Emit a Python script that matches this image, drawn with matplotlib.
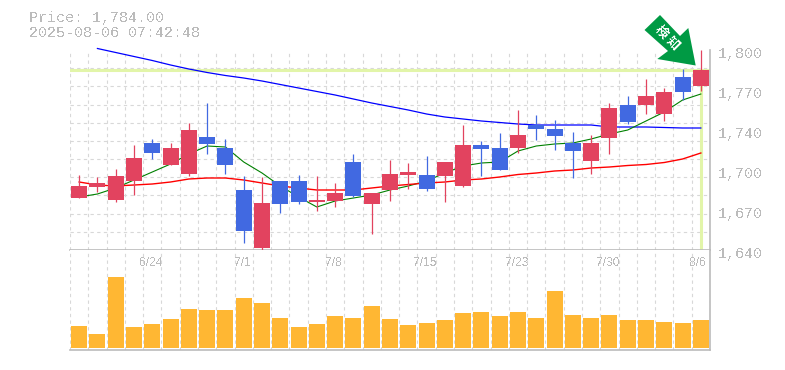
import numpy as np
import matplotlib
matplotlib.use('Agg')
import matplotlib.pyplot as plt
from matplotlib.patches import Polygon
from matplotlib.transforms import ScaledTranslation

plt.rcParams['text.antialiased'] = False

# prices
opens = [1681.6, 1690.4, 1680, 1695.2, 1725.6, 1708, 1700.8, 1730.4, 1721.6, 1688, 1641.6, 1695.2,
         1695.2, 1678.4, 1679.2, 1710.4, 1676.8, 1688, 1700, 1700, 1699.2, 1691.2, 1724, 1721.6,
         1721.6, 1740, 1736.8, 1725.6, 1711.2, 1729.6, 1756, 1756, 1748.8, 1778.4, 1771.2]
closes = [1691.2, 1693.6, 1699.2, 1713.6, 1717.6, 1721.6, 1736, 1724.8, 1708, 1655.2, 1677.6, 1676.8,
          1678.4, 1680, 1685.6, 1683.2, 1685.6, 1700.8, 1702.4, 1688.8, 1710.4, 1724, 1720.8, 1704,
          1732, 1736.8, 1731.2, 1719.2, 1725.6, 1753.6, 1742.4, 1763.2, 1766.4, 1766.4, 1784]
highs = [1700, 1698.4, 1704.8, 1724, 1728.8, 1725.6, 1741.6, 1757.6, 1728.8, 1699.2, 1698.4, 1695.2,
         1700, 1699.2, 1693.6, 1716.8, 1685.6, 1712, 1709.6, 1715.2, 1710.4, 1740, 1727.2, 1733.6,
         1752, 1748, 1744, 1734.4, 1732, 1757.6, 1763.2, 1776.8, 1769.6, 1784.8, 1800]
lows = [1681.6, 1686.4, 1678.4, 1684, 1712.8, 1708, 1699.2, 1716.8, 1700.8, 1645.6, 1639.2, 1669.6,
        1676.8, 1671.2, 1674.4, 1682.4, 1652.8, 1679.2, 1688.8, 1687.2, 1678.4, 1690.4, 1699.2, 1704,
        1717.6, 1728, 1720, 1697.6, 1700.8, 1716.8, 1740.8, 1748.8, 1743.2, 1760, 1767.2]
ma_short = [1682.4, 1684.8, 1689.6, 1696, 1702.4, 1708.8, 1716.8, 1723.2, 1722.4, 1710.4, 1701.6, 1691.2,
            1682.4, 1674.4, 1679.2, 1681.6, 1684, 1688, 1691.2, 1695.2, 1701.6, 1707.2, 1709.6, 1710.4,
            1719.2, 1723.2, 1724.8, 1725.6, 1728.8, 1732.8, 1736, 1743.2, 1750.4, 1760, 1764.8]
ma_mid = [1694.4, 1692, 1691.2, 1692, 1692.8, 1694.4, 1696.8, 1697.6, 1697.6, 1696, 1693.6, 1691.2,
          1689.6, 1688, 1688, 1688, 1689.6, 1691.2, 1692.4, 1693.6, 1694.4, 1696, 1696.8, 1698.4,
          1700.4, 1701.6, 1703.2, 1704, 1705.6, 1706.4, 1707.6, 1708.4, 1710, 1712.8, 1717.6]
ma_long = [np.nan, 1801.2, 1798, 1794.8, 1791.6, 1788, 1784.8, 1782, 1779.6, 1777.6, 1775.2, 1772.4,
           1769.6, 1766.8, 1764, 1760.8, 1757.6, 1754.8, 1752, 1748.8, 1746.4, 1744.8, 1743.2, 1742,
           1740.8, 1740, 1740, 1740, 1740, 1738.4, 1738.4, 1738.4, 1738, 1737.6, 1737.6]
volumes = [22, 14, 71, 21, 24, 29, 39, 38, 38, 50, 45, 30, 21, 24, 32, 30, 42, 29,
           23, 25, 28, 35, 36, 32, 36, 30, 57, 33, 30, 33, 28, 28, 26, 25, 28]
last_price = 1784
price_ticks = [1640, 1672, 1704, 1736, 1768, 1800]
price_labels = ['1,640', '1,670', '1,700', '1,740', '1,770', '1,800']
date_pos = [4, 9, 14, 19, 24, 29, 34]
date_labels = ['6/24', '7/1', '7/8', '7/15', '7/23', '7/30', '8/6']

RED = '#e2435f'
BLUE = '#4169e1'
GRID = '#d8d8d8'
GRAY = '#bbbbbb'
W, H = 785, 370

x = np.arange(len(opens))
opens = np.array(opens)
closes = np.array(closes)
colors = [RED if c >= o else BLUE for o, c in zip(opens, closes)]

fig = plt.figure(figsize=(W / 100, H / 100), dpi=100, facecolor='white')
ax = fig.add_axes([70 / W, 1 - 250 / H, 640 / W, 200 / H])
vax = fig.add_axes([70 / W, 1 - 350 / H, 640 / W, 100 / H], sharex=ax)

ax.set_xlim(-0.5, 34.5)
ax.set_ylim(1640, 1800)
vax.set_ylim(-2, 98)

# dashed grid on minor ticks, labels stay on the major ones
for a in (ax, vax):
    a.set_xticks(np.arange(-0.5, 35), minor=True)
    a.grid(True, which='minor', axis='x', color=GRID, lw=0.8, ls=(0, (3, 3)), zorder=0, snap=True)
    a.set_axisbelow(True)
    a.spines['left'].set_visible(False)
    a.spines['top'].set_visible(False)
    a.spines['right'].set_color(GRAY)
    a.spines['bottom'].set_color(GRAY)
    a.spines['right'].set_linewidth(1.2)
    a.spines['bottom'].set_linewidth(1.2)
    a.tick_params(which='both', length=0)
ax.set_yticks(np.linspace(1640, 1800, 12), minor=True)
ax.grid(True, which='minor', axis='y', color=GRID, lw=0.8, ls=(0, (3, 3)), zorder=0, snap=True)

ax.yaxis.tick_right()
ax.set_yticks(price_ticks, price_labels, family='Liberation Mono', fontsize=10.8, color=GRAY)
ax.tick_params(axis='y', which='major', pad=6, length=0)
shift = ScaledTranslation(0, -2.6 / 100, fig.dpi_scale_trans)
for lab in ax.get_yticklabels():
    lab.set_transform(lab.get_transform() + shift)
ax.tick_params(axis='x', labelbottom=False)

vax.set_yticks([])
vax.set_xticks(date_pos, date_labels, family='Liberation Sans', fontsize=8.64, color=GRAY)
vax.tick_params(axis='x', which='major', labelbottom=False, labeltop=True, pad=-14, length=0)
plt.setp(vax.get_xticklabels(), visible=True)
left_shift = ScaledTranslation(-1 / 100, 0, fig.dpi_scale_trans)
for lab in vax.get_xticklabels():
    lab.set_transform(lab.get_transform() + left_shift)
last_lab = vax.get_xticklabels()[-1]
last_lab.set_transform(last_lab.get_transform() + ScaledTranslation(-2 / 100, 0, fig.dpi_scale_trans))

# current price marker
ax.axhline(last_price, color='#e2f5a9', lw=2.2, zorder=1.5)
ax.vlines(x[-1], 1640, last_price, color='#e2f5a9', lw=2.2, zorder=1.5)

ax.plot(x, ma_long, color='#0000ff', lw=0.9, clip_on=False, zorder=2)
ax.plot(x, ma_short, color='#008000', lw=0.8, zorder=2)
ax.plot(x, ma_mid, color='#ff0000', lw=1.0, zorder=2)

ax.vlines(x, lows, highs, colors=colors, lw=0.9, zorder=3, clip_on=False)
ax.bar(x, closes - opens, bottom=opens, width=16 / 18.29, color=colors, zorder=4, clip_on=False)

vax.bar(x, volumes, width=16 / 18.29, color='#ffb733', zorder=3)

# overlay in pixel coords for the header and the signal arrow
over = fig.add_axes([0, 0, 1, 1], zorder=10)
over.set_xlim(0, W)
over.set_ylim(H, 0)
over.axis('off')
over.text(29, 18, 'Price: 1,784.00', family='Liberation Mono', fontsize=10.8, color=GRAY, va='center')
over.text(29, 33, '2025-08-06 07:42:48', family='Liberation Mono', fontsize=10.8, color=GRAY, va='center')
over.add_patch(Polygon([(660, 15), (644.5, 30), (668, 51), (657.3, 59), (695.7, 65.5), (688.3, 28), (680, 36)],
                       closed=True, facecolor='#009a44', edgecolor='none'))
over.text(661, 32, '検', family='Noto Sans CJK JP', fontsize=9, fontweight='bold', color='white',
          rotation=-45, ha='center', va='center')
over.text(672.5, 43.5, '知', family='Noto Sans CJK JP', fontsize=9, fontweight='bold', color='white',
          rotation=-45, ha='center', va='center')

fig.savefig('out.png', dpi=100)
